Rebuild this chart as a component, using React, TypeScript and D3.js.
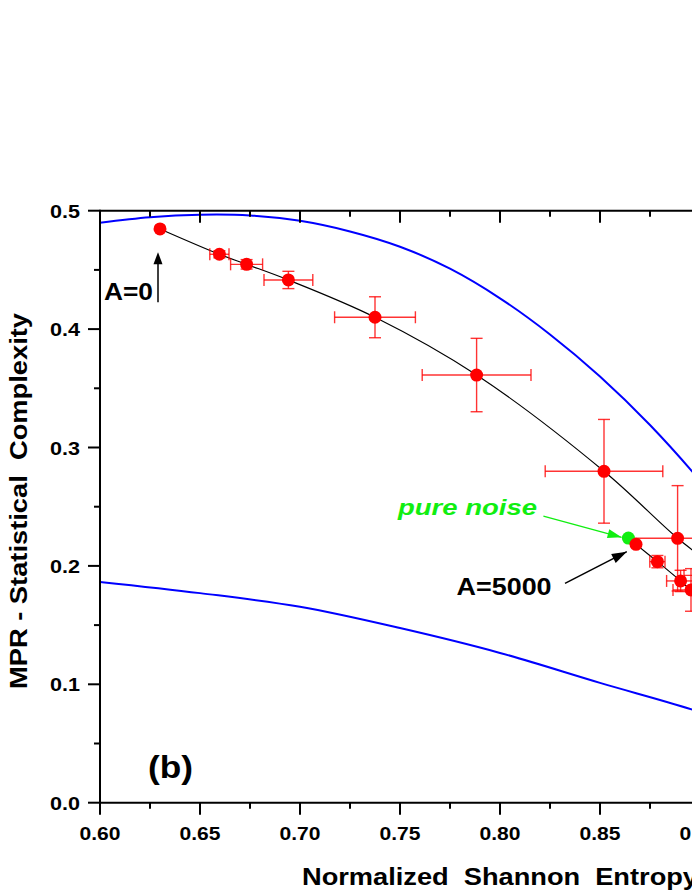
import React from "react";
import * as d3 from "d3";

// ---- Data ----
// Measured points, in order of the parameter A (A=0 ... A=5000); the ones with H > 0.9 lie beyond the visible edge
const entropy = [0.630, 0.6597, 0.6733, 0.6942, 0.7375, 0.7883, 0.852, 0.8888, 0.912, 0.918, 0.905, 0.8955, 0.8903, 0.8787, 0.868];
const complexity = [0.4846, 0.4632, 0.4547, 0.4415, 0.410, 0.3612, 0.2799, 0.2233, 0.192, 0.176, 0.169, 0.1797, 0.1873, 0.2036, 0.2182];
const entropyErr = [0, 0.0048, 0.008, 0.0122, 0.0202, 0.0272, 0.0294, 0.0239, 0.02, 0.015, 0.0085, 0.009, 0.007, 0.0038, 0];
const complexityErr = [0, 0.003, 0.004, 0.0073, 0.0173, 0.031, 0.0438, 0.0445, 0.03, 0.02, 0.012, 0.018, 0.009, 0.0052, 0];

// Pure noise point
const noiseEntropy = [0.8642];
const noiseComplexity = [0.2235];

// Upper bound curve (maximum complexity)
const maxEntropy = [0.60, 0.625, 0.65, 0.675, 0.70, 0.725, 0.75, 0.775, 0.80, 0.825, 0.85, 0.875, 0.90, 0.925, 0.95, 0.975, 1.0];
const maxComplexity = [0.4899, 0.4945, 0.4966, 0.4960, 0.4915, 0.4825, 0.4696, 0.4510, 0.4260, 0.3955, 0.3600, 0.3190, 0.2720, 0.219, 0.158, 0.088, 0];

// Lower bound curve (minimum complexity)
const minEntropy = [0.60, 0.65, 0.70, 0.75, 0.80, 0.85, 0.90, 0.95, 1.0];
const minComplexity = [0.1865, 0.177, 0.1655, 0.1475, 0.1265, 0.1012, 0.0765, 0.045, 0];

// Ticks
const xMajorTicks = [0.60, 0.65, 0.70, 0.75, 0.80, 0.85, 0.90, 0.95, 1.00];
const xTickLabels = ["0.60", "0.65", "0.70", "0.75", "0.80", "0.85", "0.90"];
const xMinorTicks = [0.625, 0.675, 0.725, 0.775, 0.825, 0.875, 0.925, 0.975];
const yMajorTicks = [0.0, 0.1, 0.2, 0.3, 0.4, 0.5];
const yTickLabels = ["0.0", "0.1", "0.2", "0.3", "0.4", "0.5"];
const yMinorTicks = [0.05, 0.15, 0.25, 0.35, 0.45];

const W = 692;
const H = 896;
const FONT = "'Liberation Sans', Arial, Helvetica, sans-serif";

function arrowHead(x1: number, y1: number, x2: number, y2: number, len: number, half: number) {
  const dx = x2 - x1, dy = y2 - y1;
  const L = Math.sqrt(dx * dx + dy * dy);
  const ux = dx / L, uy = dy / L;
  const bx = x2 - ux * len, by = y2 - uy * len;
  const px = -uy, py = ux;
  return `${x2},${y2} ${bx + px * half},${by + py * half} ${bx - px * half},${by - py * half}`;
}

export default function App() {
  const x = d3.scaleLinear().domain([0.6, 1.0]).range([100, 900]);
  const y = d3.scaleLinear().domain([0, 0.5]).range([802.7, 210.7]);

  const pts = entropy.map((h, i) => ({ h, c: complexity[i], eh: entropyErr[i], ec: complexityErr[i] }));

  const blueLine = d3.line<[number, number]>().x(d => x(d[0])).y(d => y(d[1])).curve(d3.curveCatmullRom.alpha(0.5));
  const maxPath = blueLine(maxEntropy.map((h, i) => [h, maxComplexity[i]]) as [number, number][]) || "";
  const minPath = blueLine(minEntropy.map((h, i) => [h, minComplexity[i]]) as [number, number][]) || "";
  const blackPath = d3.line<{ h: number; c: number }>().x(d => x(d.h)).y(d => y(d.c)).curve(d3.curveCatmullRom.alpha(0.5))(pts) || "";

  const x0 = x(0.6), x1 = x(1.0), yb = y(0), yt = y(0.5);
  const cap = 6;
  const red = "#ff0000";
  const green = "#11ee11";

  // annotation anchors (data coordinates)
  const a0Tail = [x(0.629), y(0.4226)];
  const a0Tip = [x(0.629), y(0.465)];
  const a5Tail = [x(0.8325), y(0.1853)];
  const a5Tip = [x(0.8634), y(0.2120)];
  const gTail = [x(0.8217), y(0.2421)];
  const gTip = [x(0.8608), y(0.2241)];

  return (
    <svg width={W} height={H} style={{ position: "absolute", left: 0, top: 0, background: "#fff" }} fontFamily={FONT}>
      <rect x={0} y={0} width={W} height={H} fill="#fff" />
      {/* bound curves */}
      <path d={maxPath} fill="none" stroke="#0000ff" strokeWidth={2} />
      <path d={minPath} fill="none" stroke="#0000ff" strokeWidth={2} />

      {/* black connecting curve */}
      <path d={blackPath} fill="none" stroke="#000" strokeWidth={1.2} />

      {/* error bars */}
      <g stroke={red} strokeWidth={1.4} strokeOpacity={0.8}>
        {pts.map((p, i) => (
          <g key={"e" + i}>
            {p.eh > 0 && (
              <>
                <line x1={x(p.h - p.eh)} x2={x(p.h + p.eh)} y1={y(p.c)} y2={y(p.c)} />
                <line x1={x(p.h - p.eh)} x2={x(p.h - p.eh)} y1={y(p.c) - cap} y2={y(p.c) + cap} />
                <line x1={x(p.h + p.eh)} x2={x(p.h + p.eh)} y1={y(p.c) - cap} y2={y(p.c) + cap} />
              </>
            )}
            {p.ec > 0 && (
              <>
                <line x1={x(p.h)} x2={x(p.h)} y1={y(p.c - p.ec)} y2={y(p.c + p.ec)} />
                <line x1={x(p.h) - cap} x2={x(p.h) + cap} y1={y(p.c - p.ec)} y2={y(p.c - p.ec)} />
                <line x1={x(p.h) - cap} x2={x(p.h) + cap} y1={y(p.c + p.ec)} y2={y(p.c + p.ec)} />
              </>
            )}
          </g>
        ))}
      </g>

      {/* pure noise point */}
      {noiseEntropy.map((h, i) => (
        <circle key={"g" + i} cx={x(h)} cy={y(noiseComplexity[i])} r={6.5} fill={green} />
      ))}

      {/* data points */}
      {pts.map((p, i) => (
        <circle key={"p" + i} cx={x(p.h)} cy={y(p.c)} r={6.5} fill={red} />
      ))}

      {/* axes frame */}
      <g stroke="#000" strokeWidth={2}>
        <line x1={x0} x2={x1} y1={yb} y2={yb} />
        <line x1={x0} x2={x1} y1={yt} y2={yt} />
        <line x1={x0} x2={x0} y1={yb + 1} y2={yt - 1} />
        {xMajorTicks.map(t => (
          <g key={"xm" + t}>
            <line x1={x(t)} x2={x(t)} y1={yb} y2={yb + 12} />
            <line x1={x(t)} x2={x(t)} y1={yt} y2={yt + 12} />
          </g>
        ))}
        {xMinorTicks.map(t => (
          <g key={"xn" + t}>
            <line x1={x(t)} x2={x(t)} y1={yb} y2={yb + 6} />
            <line x1={x(t)} x2={x(t)} y1={yt} y2={yt + 6} />
          </g>
        ))}
        {yMajorTicks.map(t => (
          <line key={"ym" + t} x1={x0 - 12} x2={x0} y1={y(t)} y2={y(t)} />
        ))}
        {yMinorTicks.map(t => (
          <line key={"yn" + t} x1={x0 - 6} x2={x0} y1={y(t)} y2={y(t)} />
        ))}
      </g>

      {/* tick labels */}
      <g fontWeight="bold" fontSize={19} fill="#000">
        {xTickLabels.map((lab, i) => (
          <text key={"xl" + lab} x={x(xMajorTicks[i]) - 20.5} y={840} textLength={41} lengthAdjust="spacingAndGlyphs">{lab}</text>
        ))}
        {yTickLabels.map((lab, i) => (
          <text key={"yl" + lab} x={50} y={y(yMajorTicks[i]) + 7} textLength={30} lengthAdjust="spacingAndGlyphs">{lab}</text>
        ))}
      </g>

      {/* axis titles */}
      <text x={302} y={885} fontWeight="bold" fontSize={24} fill="#000" xmlSpace="preserve" textLength={396} lengthAdjust="spacingAndGlyphs">
        Normalized  Shannon  Entropy
      </text>
      <text transform={`translate(27,${501 + 188}) rotate(-90)`} fontWeight="bold" fontSize={24} fill="#000" xmlSpace="preserve" textLength={376} lengthAdjust="spacingAndGlyphs">
        MPR - Statistical  Complexity
      </text>

      {/* annotations */}
      <text x={x(0.602)} y={y(0.4246)} fontWeight="bold" fontSize={23} fill="#000" textLength={49} lengthAdjust="spacingAndGlyphs">A=0</text>
      <line x1={a0Tail[0]} y1={a0Tail[1]} x2={a0Tip[0]} y2={a0Tip[1] + 8} stroke="#000" strokeWidth={1.5} />
      <polygon points={arrowHead(a0Tail[0], a0Tail[1], a0Tip[0], a0Tip[1], 12, 4.5)} fill="#000" />

      <text x={x(0.7783)} y={y(0.1754)} fontWeight="bold" fontSize={23} fill="#000" textLength={95} lengthAdjust="spacingAndGlyphs">A=5000</text>
      <line x1={a5Tail[0]} y1={a5Tail[1]} x2={a5Tip[0]} y2={a5Tip[1]} stroke="#000" strokeWidth={1.5} />
      <polygon points={arrowHead(a5Tail[0], a5Tail[1], a5Tip[0], a5Tip[1], 15, 5)} fill="#000" />

      <text x={x(0.749)} y={y(0.243)} fontWeight="bold" fontStyle="italic" fontSize={22} fill={green} textLength={139} lengthAdjust="spacingAndGlyphs">pure noise</text>
      <line x1={gTail[0]} y1={gTail[1]} x2={gTip[0]} y2={gTip[1]} stroke={green} strokeWidth={1.3} />
      <polygon points={arrowHead(gTail[0], gTail[1], gTip[0], gTip[1], 14, 4.5)} fill={green} />

      <text x={x(0.624)} y={y(0.0209)} fontWeight="bold" fontSize={32} fill="#000" textLength={45} lengthAdjust="spacingAndGlyphs">(b)</text>
    </svg>
  );
}
